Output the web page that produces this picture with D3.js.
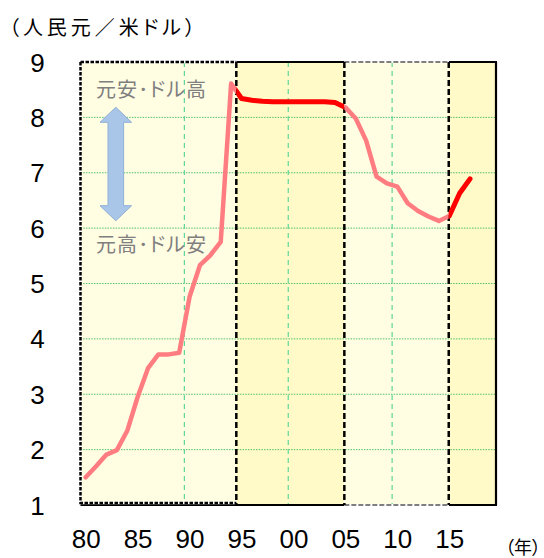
<!DOCTYPE html>
<html>
<head>
<meta charset="utf-8">
<script src="https://cdn.jsdelivr.net/npm/d3@7"></script>
<style>
  html, body { margin: 0; padding: 0; background: #ffffff; }
  svg { display: block; }
  .jp { font-family: "Noto Sans CJK JP", sans-serif; font-feature-settings: "palt"; }
  .num { font-family: "Liberation Sans", Arial, sans-serif; }
</style>
</head>
<body>
<svg id="chart" width="544" height="558"></svg>
<script>
// Yuan per US dollar, annual averages
const years = d3.range(1980, 2018);
const rates = [
  1.50, 1.70, 1.91, 1.99, 2.34, 2.95, 3.47, 3.72, 3.72, 3.75,
  4.76, 5.33, 5.51, 5.75, 8.61, 8.34, 8.31, 8.29, 8.28, 8.28,
  8.28, 8.28, 8.28, 8.28, 8.27, 8.18, 7.98, 7.58, 6.93, 6.81,
  6.75, 6.45, 6.31, 6.21, 6.13, 6.22, 6.63, 6.89
];

// Axis ticks
const xTickYears  = [1980, 1985, 1990, 1995, 2000, 2005, 2010, 2015];
const xTickLabels = ["80", "85", "90", "95", "00", "05", "10", "15"];
const yTicks      = [1, 2, 3, 4, 5, 6, 7, 8, 9];
const xGridYears  = [1990, 2000, 2010];

// Exchange-rate regimes (edges in years)
const periodEdges = [1980, 1995, 2005.4, 2015.45, 2020];

// Text
const yAxisTitle = "（人民元／米ドル）";
const xAxisTitle = "（年）";
const upLabel    = "元安･ドル高";
const downLabel  = "元高･ドル安";

const svg = d3.select("#chart");

const x = d3.scaleLinear().domain([1980, 2020]).range([80.5, 496]);
const y = d3.scaleLinear().domain([1, 9]).range([505, 62]);

const periodFill = ["#FFFDE2", "#FFFAC8", "#FFFDE2", "#FFFAC8"];
const periodLine = ["#FF7C80", "#FF0000", "#FF7C80", "#FF0000"];
const periodWidth = [4.5, 5, 4.5, 5];

const periods = d3.range(periodEdges.length - 1).map(i => ({
  i, x0: x(periodEdges[i]), x1: x(periodEdges[i + 1])
}));

// Background bands
svg.append("g").selectAll("rect").data(periods).join("rect")
  .attr("x", d => d.x0).attr("y", y(9))
  .attr("width", d => d.x1 - d.x0).attr("height", y(1) - y(9))
  .attr("fill", d => periodFill[d.i]);

// Horizontal gridlines
svg.append("g").selectAll("line").data(yTicks.slice(1, -1)).join("line")
  .attr("x1", x(1980)).attr("x2", x(2020))
  .attr("y1", d => y(d)).attr("y2", d => y(d))
  .attr("stroke", "#27B553").attr("stroke-width", 1)
  .attr("stroke-dasharray", "1.5,1.2").attr("opacity", 0.8);

// Vertical gridlines
svg.append("g").selectAll("line").data(xGridYears).join("line")
  .attr("x1", d => x(d)).attr("x2", d => x(d))
  .attr("y1", y(9)).attr("y2", y(1))
  .attr("stroke", "#5ED69B").attr("stroke-width", 1.2)
  .attr("stroke-dasharray", "5,4");

// Plot frame (solid parts)
const frame = svg.append("g").attr("stroke", "#000").attr("stroke-width", 2.2).attr("fill", "none");
frame.append("line").attr("x1", x(1995)).attr("x2", x(2005.4)).attr("y1", y(9)).attr("y2", y(9));
frame.append("line").attr("x1", x(2015.45)).attr("x2", x(2020) + 1).attr("y1", y(9)).attr("y2", y(9));
frame.append("line").attr("x1", x(2020)).attr("x2", x(2020)).attr("y1", y(9)).attr("y2", y(1));
frame.append("line").attr("x1", x(1980)).attr("x2", x(2005.4)).attr("y1", y(1)).attr("y2", y(1));
frame.append("line").attr("x1", x(2015.45)).attr("x2", x(2020) + 1).attr("y1", y(1)).attr("y2", y(1));

// Dashed border of the first regime box
const box1 = `M${x(1980)},${y(9)}H${x(1995)}M${x(1980)},${y(9)}V${y(1) - 2}H${x(1995)}`;
svg.append("path").attr("d", box1).attr("fill", "none")
  .attr("stroke", "#ffffff").attr("stroke-width", 2.5);
svg.append("path").attr("d", box1).attr("fill", "none")
  .attr("stroke", "#000").attr("stroke-width", 2.5).attr("stroke-dasharray", "3.5,1.5");

// Grey dashed top / bottom of the third regime box
const box3 = `M${x(2005.4)},${y(9)}H${x(2015.45)}M${x(2005.4)},${y(1)}H${x(2015.45)}`;
svg.append("path").attr("d", box3).attr("fill", "none")
  .attr("stroke", "#ffffff").attr("stroke-width", 2.2);
svg.append("path").attr("d", box3).attr("fill", "none")
  .attr("stroke", "#7F7F7F").attr("stroke-width", 2.2).attr("stroke-dasharray", "5,2");

// Black dashed regime dividers
svg.append("g").selectAll("line").data(periodEdges.slice(1, -1)).join("line")
  .attr("x1", d => x(d)).attr("x2", d => x(d))
  .attr("y1", y(9)).attr("y2", y(1))
  .attr("stroke", "#000").attr("stroke-width", 2.5)
  .attr("stroke-dasharray", "6,3");

// Rate line, coloured by regime
const defs = svg.append("defs");
periods.forEach(p => {
  defs.append("clipPath").attr("id", "clip" + p.i)
    .append("rect").attr("x", p.x0).attr("y", 0)
    .attr("width", p.x1 - p.x0).attr("height", 558);
});
const series = years.map((yr, k) => ({ yr, v: rates[k] }));
const line = d3.line().x(d => x(d.yr + 0.5)).y(d => y(d.v));
svg.append("g").selectAll("path").data(periods).join("path")
  .attr("clip-path", d => `url(#clip${d.i})`)
  .attr("d", line(series))
  .attr("fill", "none")
  .attr("stroke", d => periodLine[d.i])
  .attr("stroke-width", d => periodWidth[d.i])
  .attr("stroke-linejoin", "round")
  .attr("stroke-linecap", "round");

// Y tick labels
svg.append("g").attr("class", "num").selectAll("text").data(yTicks).join("text")
  .attr("x", 37.5).attr("y", d => y(d) + 9.5)
  .attr("text-anchor", "middle").attr("font-size", 26).attr("fill", "#000")
  .text(d => d);

// X tick labels
svg.append("g").attr("class", "num").selectAll("text").data(xTickYears).join("text")
  .attr("x", d => x(d + 0.5) + 0.5).attr("y", 548)
  .attr("text-anchor", "middle").attr("font-size", 26).attr("fill", "#000")
  .text((d, k) => xTickLabels[k]);

// Axis titles
svg.append("text").attr("class", "jp")
  .attr("x", 9).attr("y", 26).attr("dominant-baseline", "central")
  .attr("font-size", 20).attr("fill", "#000")
  .attr("textLength", 186).attr("lengthAdjust", "spacing")
  .text(yAxisTitle);
svg.append("text").attr("class", "jp")
  .attr("x", 541).attr("y", 546).attr("dominant-baseline", "central")
  .attr("text-anchor", "end")
  .attr("font-size", 18).attr("fill", "#000")
  .text(xAxisTitle);

// Direction annotation
svg.append("text").attr("class", "jp")
  .attr("x", 96).attr("y", 88).attr("dominant-baseline", "central")
  .attr("font-size", 20).attr("fill", "#7F7F7F")
  .attr("textLength", 110).attr("lengthAdjust", "spacing")
  .text(upLabel);
svg.append("text").attr("class", "jp")
  .attr("x", 96).attr("y", 243).attr("dominant-baseline", "central")
  .attr("font-size", 20).attr("fill", "#7F7F7F")
  .attr("textLength", 110).attr("lengthAdjust", "spacing")
  .text(downLabel);

// Double-headed arrow
const ax = 115.8, aTop = 107.3, aBot = 220.7, headW = 15.8, shaftW = 7.8, headH = 15;
const arrow = [
  [ax, aTop], [ax + headW, aTop + headH], [ax + shaftW, aTop + headH],
  [ax + shaftW, aBot - headH], [ax + headW, aBot - headH], [ax, aBot],
  [ax - headW, aBot - headH], [ax - shaftW, aBot - headH],
  [ax - shaftW, aTop + headH], [ax - headW, aTop + headH]
];
svg.append("path")
  .attr("d", "M" + arrow.map(p => p.join(",")).join("L") + "Z")
  .attr("fill", "#A9C6E8").attr("stroke", "#8FB0D8").attr("stroke-width", 1);
</script>
</body>
</html>
